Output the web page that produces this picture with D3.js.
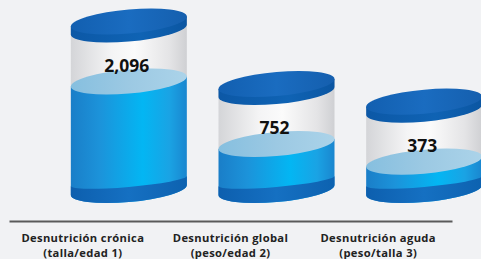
<!DOCTYPE html>
<html>
<head>
<meta charset="utf-8">
<script src="https://cdn.jsdelivr.net/npm/d3@7"></script>
<style>
  html, body { margin: 0; padding: 0; background: #f1f2f4; }
  svg { display: block; }
</style>
</head>
<body>
<script>
// data
const categories = ['Desnutrición crónica', 'Desnutrición global', 'Desnutrición aguda'];
const subLabels = ['(talla/edad 1)', '(peso/edad 2)', '(peso/talla 3)'];
const values = [2096, 752, 373];

const width = 481, height = 259;
const base = 190;      // centre of bottom ellipse
const rx = 58, ry = 12;
const depth = 46;      // 3d offset of the cylinders from the axis labels
const headroom = 60;   // glass above liquid

const svg = d3.select('body').append('svg')
    .attr('width', width)
    .attr('height', height);

const defs = svg.append('defs');

function hGrad(id, stops) {
    const g = defs.append('linearGradient').attr('id', id)
        .attr('x1', '0%').attr('x2', '100%').attr('y1', '0%').attr('y2', '0%');
    stops.forEach(s => g.append('stop').attr('offset', s[0]).attr('stop-color', s[1]));
}
hGrad('glass', [['0%', '#d4d5d8'], ['35%', '#f4f4f5'], ['55%', '#fbfbfb'], ['85%', '#e4e4e6'], ['100%', '#cfd0d3']]);
hGrad('liquid', [['0%', '#1a7ec8'], ['25%', '#1c93da'], ['62%', '#03b6f3'], ['85%', '#1aa3e4'], ['100%', '#1a86cf']]);
hGrad('surface', [['0%', '#86bfdf'], ['50%', '#9cc9e3'], ['100%', '#abd3e9']]);
hGrad('band', [['0%', '#0d5fae'], ['50%', '#1570c2'], ['100%', '#0d62b0']]);
hGrad('capTop', [['0%', '#125fb0'], ['50%', '#1a6cc0'], ['100%', '#155fae']]);
hGrad('capSide', [['0%', '#0c58a6'], ['60%', '#0f63b4'], ['100%', '#0b56a2']]);

const x = d3.scaleBand()
    .domain(categories)
    .range([9, 452]);

const h = d3.scaleLinear()
    .domain([0, d3.max(values)])
    .range([11, 108.5]);

const data = categories.map((c, i) => ({ cat: c, sub: subLabels[i], value: values[i] }));

const cyl = svg.selectAll('.cyl')
    .data(data)
    .join('g')
    .attr('class', 'cyl')
    .attr('transform', d => `translate(${x(d.cat) + x.bandwidth() / 2 + depth},${base}) skewY(-5)`);

cyl.each(function (d) {
    const g = d3.select(this);
    const L = -h(d.value);
    const top = L - headroom;

    // empty glass
    g.append('rect')
        .attr('x', -rx).attr('y', top)
        .attr('width', rx * 2).attr('height', L - top)
        .attr('fill', 'url(#glass)');

    // liquid body
    g.append('path')
        .attr('d', `M${-rx},${L} L${-rx},0 A${rx},${ry} 0 0 0 ${rx},0 L${rx},${L} Z`)
        .attr('fill', 'url(#liquid)');

    // bottom band
    g.append('path')
        .attr('d', `M${-rx},-9 L${-rx},0 A${rx},${ry} 0 0 0 ${rx},0 L${rx},-9 A${rx},6 0 0 1 ${-rx},-9 Z`)
        .attr('fill', 'url(#band)');

    // liquid surface
    g.append('ellipse')
        .attr('cx', 0).attr('cy', L)
        .attr('rx', rx).attr('ry', ry)
        .attr('fill', 'url(#surface)');

    // cap
    g.append('path')
        .attr('d', `M${-rx},${top} L${-rx},${top + 8} A${rx},${ry} 0 0 0 ${rx},${top + 8} L${rx},${top} Z`)
        .attr('fill', 'url(#capSide)');
    g.append('ellipse')
        .attr('cx', 0).attr('cy', top)
        .attr('rx', rx).attr('ry', ry)
        .attr('fill', 'url(#capTop)');
});

// value labels
svg.selectAll('.val')
    .data(data)
    .join('text')
    .attr('class', 'val')
    .attr('x', d => x(d.cat) + x.bandwidth() / 2 + depth - 2)
    .attr('y', d => base - h(d.value) - 10)
    .attr('text-anchor', 'middle')
    .style('font-family', '"Open Sans", sans-serif')
    .style('font-weight', 700)
    .style('font-size', '17.5px')
    .style('fill', '#111')
    .text(d => d3.format(',')(d.value));

// axis
const axis = svg.append('g')
    .attr('transform', 'translate(0,221)')
    .call(d3.axisBottom(x).tickSize(0).tickSizeOuter(0));

axis.select('.domain')
    .attr('stroke', '#5a5a5a')
    .attr('stroke-width', 2);

axis.selectAll('.tick text').remove();
axis.selectAll('.tick').each(function (c, i) {
    const t = d3.select(this).append('text')
        .attr('text-anchor', 'middle')
        .style('font-family', '"Open Sans", sans-serif')
        .style('font-weight', 700)
        .style('font-size', '11.2px')
        .style('letter-spacing', '0.35px')
        .style('fill', '#222');
    t.append('tspan').attr('x', 0).attr('y', 20.5).text(c);
    t.append('tspan').attr('x', 0).attr('y', 36).text(subLabels[i]);
});
</script>
</body>
</html>
